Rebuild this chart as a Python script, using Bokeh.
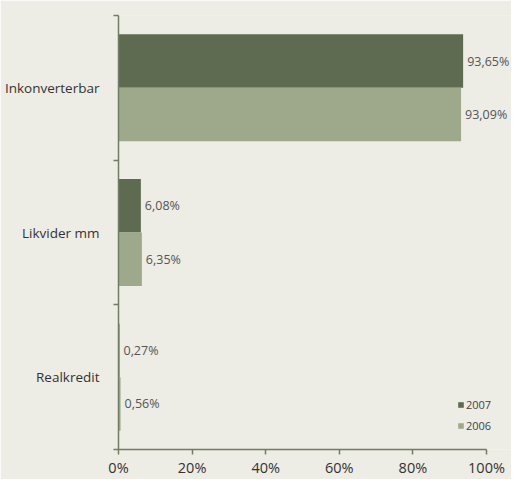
from bokeh.plotting import figure
from bokeh.models import (ColumnDataSource, Range1d, FixedTicker, PrintfTickFormatter,
                          LabelSet, Legend, LegendItem)
from bokeh.core.properties import value
from bokeh.embed import file_html
from bokeh.resources import INLINE

# ---- data ----
categories = ["Inkonverterbar", "Likvider mm", "Realkredit"]
series_names = ["2007", "2006"]
values_2007 = [93.65, 6.08, 0.27]
values_2006 = [93.09, 6.35, 0.56]
x_ticks = [0, 20, 40, 60, 80, 100]

# ---- styles ----
BG = "#EDECE5"
C2007 = "#5E6B50"
C2006 = "#9EA98C"
AXIS = "#6F7D62"
FONT = "Open Sans"

W, H = 511, 479
LEFT, RIGHT_AT_100 = 118, 486
x_end = 100 * (W - LEFT) / (RIGHT_AT_100 - LEFT)

n = len(categories)
ypos = [n - i - 0.5 for i in range(n)]
BAR_H = 0.37
OFF = BAR_H / 2

def fmt(v):
    return ("%.2f" % v).replace(".", ",") + "%"

src07 = ColumnDataSource(dict(y=[y + OFF for y in ypos], v=values_2007,
                              lab=[fmt(v) for v in values_2007]))
src06 = ColumnDataSource(dict(y=[y - OFF for y in ypos], v=values_2006,
                              lab=[fmt(v) for v in values_2006]))

p = figure(width=W, height=H, output_backend="svg", toolbar_location=None,
           x_range=Range1d(0, x_end), y_range=Range1d(0, n),
           min_border_left=LEFT, min_border_right=0, min_border_top=15,
           min_border_bottom=25)
p.background_fill_color = BG
p.border_fill_color = BG
p.outline_line_color = None
p.xgrid.grid_line_color = None
p.ygrid.grid_line_color = None

r07 = p.hbar(y="y", left=0, right="v", height=BAR_H, source=src07,
             fill_color=C2007, line_color=None)
r06 = p.hbar(y="y", left=0, right="v", height=BAR_H, source=src06,
             fill_color=C2006, line_color=None)

# x axis
xa = p.xaxis[0]
xa.bounds = (x_ticks[0], x_ticks[-1])
xa.ticker = FixedTicker(ticks=x_ticks, minor_ticks=[])
xa.formatter = PrintfTickFormatter(format="%d%%")
xa.axis_line_color = AXIS
xa.axis_line_width = 1.5
xa.major_tick_line_color = AXIS
xa.major_tick_line_width = 1.5
xa.major_tick_out = 5
xa.major_tick_in = 0
xa.minor_tick_line_color = None
xa.major_label_text_font = FONT
xa.major_label_text_font_size = "14.5px"
xa.major_label_text_color = "#333333"
xa.major_label_standoff = 3

# y axis: labels at category centres, ticks at category boundaries
ya = p.yaxis[0]
ya.ticker = FixedTicker(ticks=ypos, minor_ticks=list(range(n + 1)))
ya.major_label_overrides = {y: c for y, c in zip(ypos, categories)}
ya.axis_line_color = AXIS
ya.axis_line_width = 1.5
ya.major_tick_line_color = None
ya.major_tick_out = 0
ya.major_tick_in = 0
ya.minor_tick_line_color = AXIS
ya.minor_tick_line_width = 1.5
ya.minor_tick_out = 5
ya.minor_tick_in = 0
ya.major_label_text_font = FONT
ya.major_label_text_font_size = "13.5px"
ya.major_label_text_color = "#333333"
ya.major_label_standoff = 14

for s in (src07, src06):
    p.add_layout(LabelSet(x="v", y="y", text="lab", source=s, x_offset=4,
                          text_align="left", text_baseline="middle",
                          text_font=value(FONT), text_font_size="12.5px",
                          text_color="#555555"))

legend = Legend(items=[LegendItem(label=series_names[0], renderers=[r07]),
                       LegendItem(label=series_names[1], renderers=[r06])],
                location=(339, 16), orientation="vertical",
                glyph_width=7, glyph_height=7, label_height=10,
                label_standoff=2, spacing=6, padding=0, margin=0,
                label_text_font=FONT, label_text_font_size="11px",
                label_text_color="#444444",
                background_fill_alpha=0, border_line_color=None)
p.add_layout(legend)

open("out.html", "w").write(file_html(p, INLINE))
